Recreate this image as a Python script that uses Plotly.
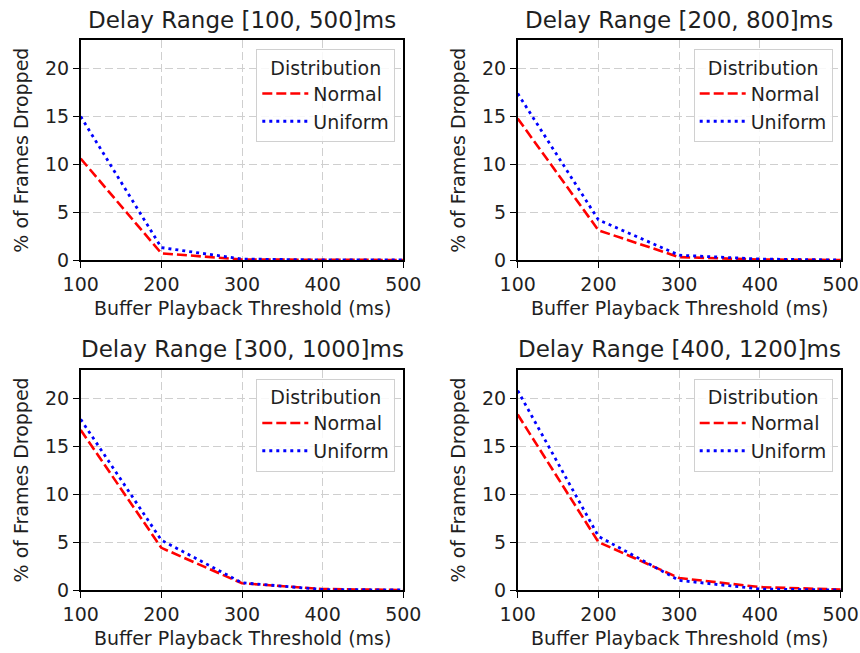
import plotly.graph_objects as go
from plotly.subplots import make_subplots

W, H = 860, 653

thresholds = [100, 200, 300, 400, 500]
titles = ["Delay Range [100, 500]ms", "Delay Range [200, 800]ms",
          "Delay Range [300, 1000]ms", "Delay Range [400, 1200]ms"]
normal_100_500 = [10.6, 0.7, 0.05, 0.0, 0.0]
uniform_100_500 = [15.0, 1.3, 0.1, 0.0, 0.0]
normal_200_800 = [14.8, 3.1, 0.3, 0.05, 0.0]
uniform_200_800 = [17.4, 4.2, 0.5, 0.1, 0.0]
normal_300_1000 = [16.7, 4.4, 0.7, 0.1, 0.0]
uniform_300_1000 = [17.8, 5.2, 0.75, 0.05, 0.0]
normal_400_1200 = [18.3, 5.0, 1.25, 0.3, 0.05]
uniform_400_1200 = [20.8, 5.6, 1.0, 0.1, 0.0]
x_ticks = [100, 200, 300, 400, 500]
y_ticks = [0, 5, 10, 15, 20]

normals = [normal_100_500, normal_200_800, normal_300_1000, normal_400_1200]
uniforms = [uniform_100_500, uniform_200_800, uniform_300_1000, uniform_400_1200]

FONT = "DejaVu Sans"
TXT = "#1f1f1f"

# panel pixel geometry (left, right, top, bottom)
panels = [(80.7, 403.3, 40, 260), (517.7, 840.7, 40, 260),
          (80.7, 403.3, 369.5, 590), (517.7, 840.7, 369.5, 590)]

fig = make_subplots(rows=2, cols=2)

def px_x(p):
    return p / W

def px_y(p):
    return 1 - p / H

annotations = []
for i in range(4):
    r, c = i // 2 + 1, i % 2 + 1
    lg = "legend" if i == 0 else f"legend{i+1}"
    fig.add_trace(go.Scatter(x=thresholds, y=normals[i], mode="lines", name="Normal",
                             line=dict(color="red", width=2.6, dash="10px,4px"),
                             legend=lg), row=r, col=c)
    fig.add_trace(go.Scatter(x=thresholds, y=uniforms[i], mode="lines", name="Uniform",
                             line=dict(color="blue", width=2.8, dash="3px,4px"),
                             legend=lg), row=r, col=c)
    L, R, T, B = panels[i]
    axn = "" if i == 0 else str(i + 1)
    fig.layout["xaxis" + axn].domain = [px_x(L), px_x(R)]
    fig.layout["yaxis" + axn].domain = [px_y(B), px_y(T)]
    fig.update_xaxes(range=[100, 500], tickvals=x_ticks, ticks="outside", ticklen=6,
                     tickwidth=1.3, tickcolor="black", showline=True, mirror=True,
                     linecolor="black", linewidth=1.5, showgrid=True,
                     gridcolor="#cfcfcf", gridwidth=1.3, griddash="8px,4px",
                     zeroline=False, automargin=False,
                     tickfont=dict(size=19, color=TXT, family=FONT),
                     row=r, col=c)
    fig.update_yaxes(range=[0, 23], tickvals=y_ticks, ticks="outside", ticklen=6,
                     tickwidth=1.3, tickcolor="black", showline=True, mirror=True,
                     linecolor="black", linewidth=1.5, showgrid=True,
                     gridcolor="#cfcfcf", gridwidth=1.3, griddash="8px,4px",
                     zeroline=False, automargin=False,
                     tickfont=dict(size=19, color=TXT, family=FONT),
                     row=r, col=c)
    fig.layout[lg] = dict(
        x=px_x(R - 8), y=px_y(T + 9), xanchor="right", yanchor="top",
        bgcolor="rgba(255,255,255,0.85)", bordercolor="#d0d0d0", borderwidth=1,
        font=dict(size=19, color=TXT, family=FONT),
        title=dict(text="Distribution", side="top center",
                   font=dict(size=19, color=TXT, family=FONT)),
        tracegroupgap=0, itemwidth=46,
    )
    annotations.append(dict(text=titles[i], x=px_x((L + R) / 2), y=px_y(T - 20),
                            xref="paper", yref="paper", showarrow=False,
                            xanchor="center", yanchor="middle",
                            font=dict(size=23, color=TXT, family=FONT)))
    annotations.append(dict(text="Buffer Playback Threshold (ms)", x=px_x((L + R) / 2),
                            y=px_y(B + 48), xref="paper", yref="paper", showarrow=False,
                            xanchor="center", yanchor="middle",
                            font=dict(size=19, color=TXT, family=FONT)))
    annotations.append(dict(text="% of Frames Dropped", x=px_x(L - 60),
                            y=px_y((T + B) / 2), xref="paper", yref="paper",
                            showarrow=False, textangle=-90,
                            xanchor="center", yanchor="middle",
                            font=dict(size=19, color=TXT, family=FONT)))

fig.update_layout(width=W, height=H, margin=dict(l=0, r=0, t=0, b=0, autoexpand=False),
                  paper_bgcolor="white", plot_bgcolor="white",
                  font=dict(family=FONT, color=TXT), annotations=annotations,
                  showlegend=True)

# remove the default 8px page margin so the 860x653 figure fills the window
fig.write_html("out.html", config={"displayModeBar": False},
               post_script="document.body.style.margin='0px';"
                           "document.body.style.overflow='hidden';")
